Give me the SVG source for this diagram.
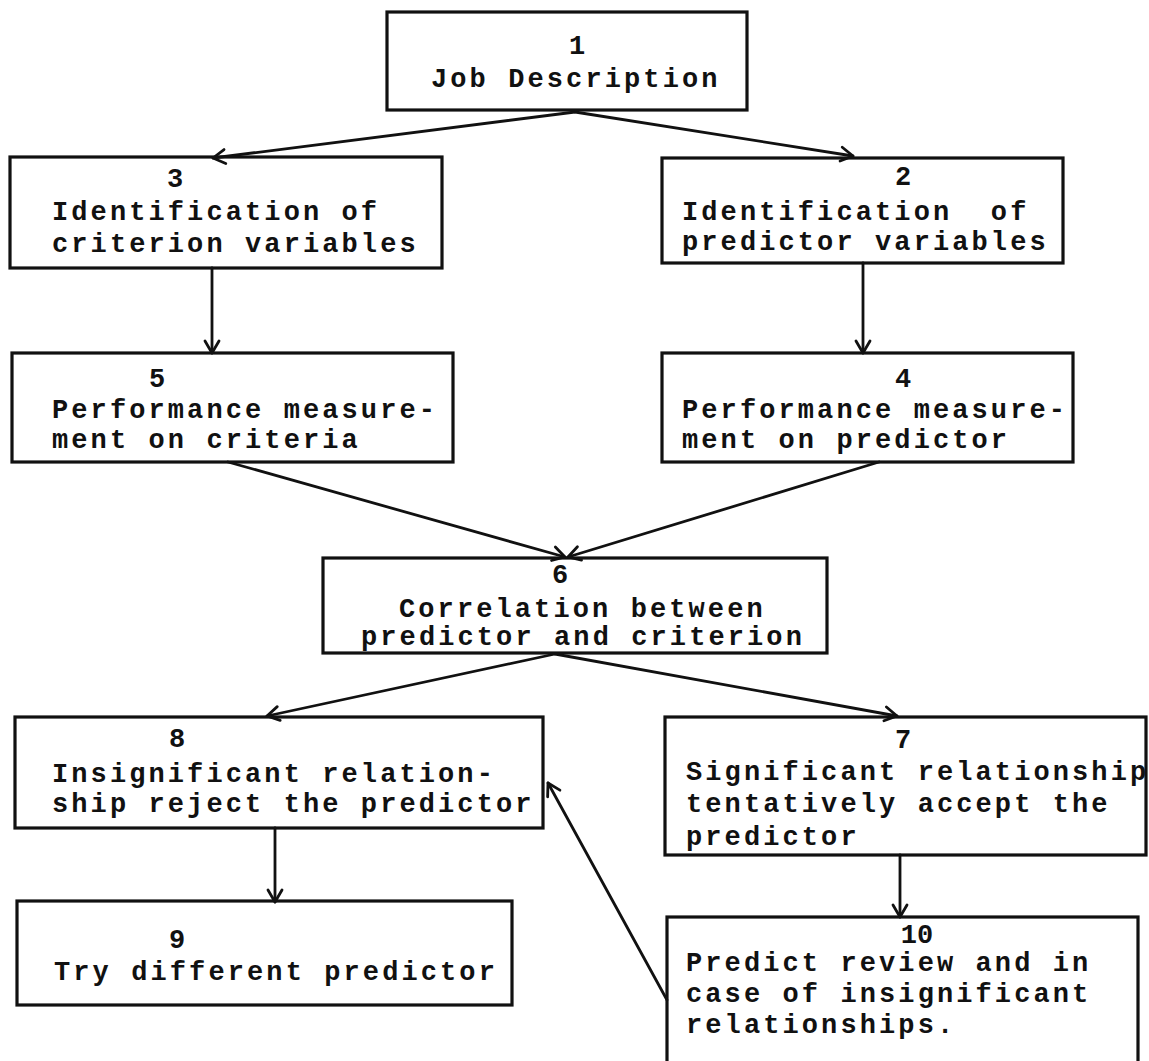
<svg xmlns="http://www.w3.org/2000/svg" width="1149" height="1061" viewBox="0 0 1149 1061">
<style>
.box{fill:none;stroke:#111;stroke-width:3.2;}
.t{font-family:"Liberation Mono","Courier New",monospace;font-size:27px;font-weight:bold;letter-spacing:3.1px;fill:#111;white-space:pre;}
.n{text-anchor:middle;letter-spacing:0;}
.c{fill:none;stroke:#111;stroke-width:2.8;stroke-linecap:round;}
</style>
<defs>
<marker id="ah" viewBox="-14 -9 16 18" refX="0" refY="0" markerWidth="16" markerHeight="18" markerUnits="userSpaceOnUse" orient="auto">
<path d="M-12,-7 L0,0 L-12,7" fill="none" stroke="#111" stroke-width="2.8" stroke-linecap="round" stroke-linejoin="round"/>
</marker>
</defs>
<rect width="1149" height="1061" fill="#fff"/>
<g id="connectors">
<line class="c" x1="575" y1="112" x2="213" y2="158" marker-end="url(#ah)"/>
<line class="c" x1="575" y1="112" x2="853" y2="156" marker-end="url(#ah)"/>
<line class="c" x1="212" y1="268" x2="212" y2="353" marker-end="url(#ah)"/>
<line class="c" x1="863" y1="263" x2="863" y2="353" marker-end="url(#ah)"/>
<line class="c" x1="228" y1="462" x2="565" y2="557" marker-end="url(#ah)"/>
<line class="c" x1="879" y1="462" x2="568" y2="557" marker-end="url(#ah)"/>
<line class="c" x1="555" y1="654" x2="267" y2="716" marker-end="url(#ah)"/>
<line class="c" x1="555" y1="654" x2="897" y2="716" marker-end="url(#ah)"/>
<line class="c" x1="275" y1="828" x2="275" y2="902" marker-end="url(#ah)"/>
<line class="c" x1="900" y1="855" x2="900" y2="917" marker-end="url(#ah)"/>
<line class="c" x1="667" y1="1000" x2="548" y2="783" marker-end="url(#ah)"/>
</g>
<g id="node1">
<rect class="box" x="387" y="12" width="360" height="98"/>
<text class="t n" x="577" y="54">1</text>
<text class="t" x="431" y="87">Job Description</text>
</g>
<g id="node3">
<rect class="box" x="10" y="157" width="432" height="111"/>
<text class="t n" x="175" y="187">3</text>
<text class="t" x="52" y="220">Identification of</text>
<text class="t" x="52" y="252">criterion variables</text>
</g>
<g id="node2">
<rect class="box" x="662" y="158" width="401" height="105"/>
<text class="t n" x="903" y="185">2</text>
<text class="t" x="682" y="220">Identification  of</text>
<text class="t" x="682" y="250">predictor variables</text>
</g>
<g id="node5">
<rect class="box" x="12" y="353" width="441" height="109"/>
<text class="t n" x="157" y="387">5</text>
<text class="t" x="52" y="418">Performance measure-</text>
<text class="t" x="52" y="448">ment on criteria</text>
</g>
<g id="node4">
<rect class="box" x="662" y="353" width="411" height="109"/>
<text class="t n" x="903" y="387">4</text>
<text class="t" x="682" y="418">Performance measure-</text>
<text class="t" x="682" y="448">ment on predictor</text>
</g>
<g id="node6">
<rect class="box" x="323" y="558" width="504" height="95"/>
<text class="t n" x="560" y="583">6</text>
<text class="t" x="399" y="617">Correlation between</text>
<text class="t" x="361" y="645">predictor and criterion</text>
</g>
<g id="node8">
<rect class="box" x="15" y="717" width="528" height="111"/>
<text class="t n" x="177" y="747">8</text>
<text class="t" x="52" y="782">Insignificant relation-</text>
<text class="t" x="52" y="812">ship reject the predictor</text>
</g>
<g id="node7">
<rect class="box" x="665" y="717" width="481" height="138"/>
<text class="t n" x="903" y="748">7</text>
<text class="t" x="686" y="780">Significant relationship</text>
<text class="t" x="686" y="812">tentatively accept the</text>
<text class="t" x="686" y="845">predictor</text>
</g>
<g id="node9">
<rect class="box" x="17" y="901" width="495" height="104"/>
<text class="t n" x="177" y="948">9</text>
<text class="t" x="54" y="980">Try different predictor</text>
</g>
<g id="node10">
<rect class="box" x="667" y="917" width="471" height="152"/>
<text class="t n" x="917" y="943">10</text>
<text class="t" x="686" y="971">Predict review and in</text>
<text class="t" x="686" y="1002">case of insignificant</text>
<text class="t" x="686" y="1033">relationships.</text>
</g>
</svg>
